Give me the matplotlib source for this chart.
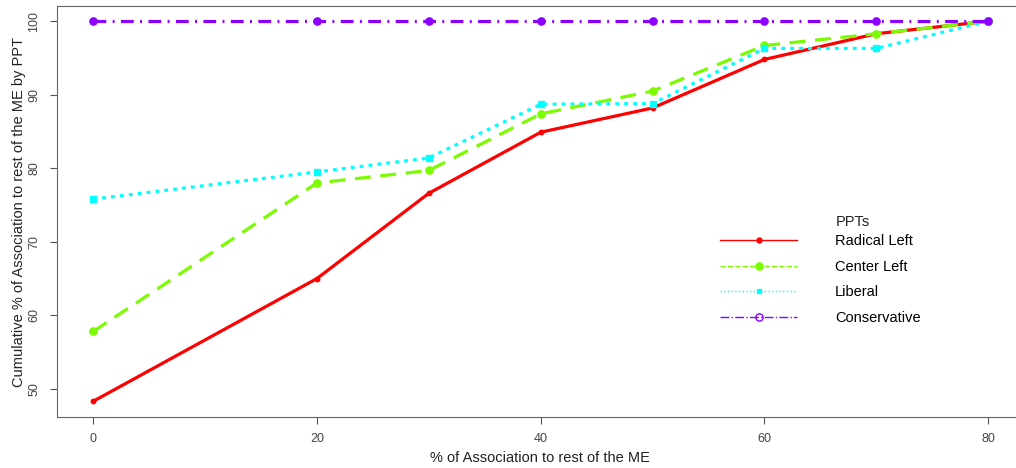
import matplotlib
matplotlib.use("Agg")
import matplotlib.pyplot as plt
from matplotlib.lines import Line2D

plt.rcParams['font.family'] = ['Liberation Sans', 'DejaVu Sans']

# share of association (x) and cumulative share per party type
assoc = [0, 20, 30, 40, 50, 60, 70, 80]
radical_left = [48.3, 65.0, 76.6, 84.9, 88.2, 94.8, 98.3, 100]
center_left = [57.8, 78.0, 79.7, 87.4, 90.5, 96.7, 98.3, 100]
liberal = [75.8, 79.5, 81.4, 88.7, 88.8, 96.3, 96.3, 100]
conservative = [100, 100, 100, 100, 100, 100, 100, 100]

names = ["Radical Left", "Center Left", "Liberal", "Conservative"]
colors = ["#FF0000", "#7CFC00", "#00FFFF", "#8B00FF"]

W, H = 1016, 468
fig = plt.figure(figsize=(W / 100, H / 100), dpi=100)
# plot region runs a bit past the right edge of the canvas
ax = fig.add_axes([56.7 / W, 1 - 416.7 / H, (1024 - 56.7) / W, 410.7 / H])

# line styles roughly like R's lty 1, 2, 3, 4 at lwd 3
ax.plot(assoc, radical_left, color=colors[0], lw=2.3, marker="o", ms=3.2)
ax.plot(assoc, center_left, color=colors[1], lw=2.3, marker="o", ms=5.2,
        dashes=(5, 3))
ax.plot(assoc, liberal, color=colors[2], lw=2.3, marker="s", ms=3.8,
        dashes=(1.2, 1.6))
ax.plot(assoc, conservative, color=colors[3], lw=2.3, marker="o", ms=5.2,
        dashes=(4, 2, 0.6, 2))

ax.set_xlim(-3.27, 83.2)
ax.set_ylim(46.2, 102.07)
ax.set_xticks([0, 20, 40, 60, 80])
ax.set_yticks([50, 60, 70, 80, 90, 100])
for lab in ax.get_yticklabels():
    lab.set_rotation(90)
    lab.set_va("center")
ax.tick_params(colors="#555555", labelcolor="#444444", labelsize=9,
               length=5, pad=7)
for sp in ax.spines.values():
    sp.set_color("#666666")

fig.text(540 / W, 1 - 458 / H, "% of Association to rest of the ME",
         fontsize=10.5, ha="center", va="center", color="#222222")
fig.text(19 / W, 1 - 212 / H,
         "Cumulative % of Association to rest of the ME by PPT",
         fontsize=10.5, ha="center", va="center", rotation=90,
         color="#222222")

# legend with thin lines like the R legend
handles = [
    Line2D([], [], color=colors[0], lw=1, marker="o", ms=3.6),
    Line2D([], [], color=colors[1], lw=1, marker="o", ms=5.2, ls="--"),
    Line2D([], [], color=colors[2], lw=1, marker="s", ms=3, ls=":"),
    Line2D([], [], color=colors[3], lw=1, marker="o", ms=5.2, ls="-.",
           markerfacecolor="none"),
]
leg = fig.legend(handles, names, frameon=False, fontsize=10.5,
                 loc="upper left", bbox_to_anchor=(720 / W, 1 - 234 / H),
                 bbox_transform=fig.transFigure, borderpad=0,
                 borderaxespad=0, handlelength=5.3, handletextpad=2.6,
                 labelspacing=0.8)
fig.text(836 / W, 1 - 222 / H, "PPTs", fontsize=10.5, ha="left",
         va="center", color="#222222")

fig.savefig("out.png", dpi=100)
